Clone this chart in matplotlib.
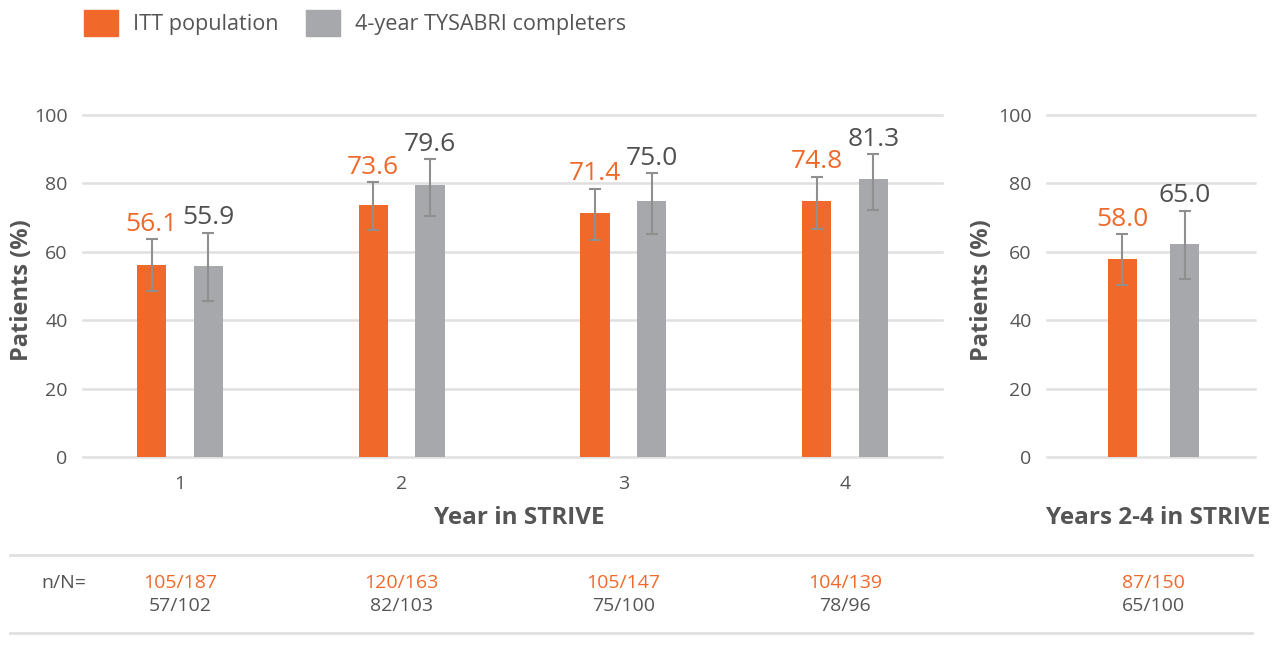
import numpy as np
import matplotlib
matplotlib.use('Agg')
import matplotlib.pyplot as plt
import matplotlib.transforms as mtransforms
from matplotlib.patches import Patch
from matplotlib.lines import Line2D

plt.rcParams['font.family'] = ['Open Sans', 'DejaVu Sans']

# data
years = [1, 2, 3, 4]
itt_vals = [56.1, 73.6, 71.4, 74.8]
itt_lo = [48.5, 66.5, 63.5, 66.6]
itt_hi = [63.7, 80.3, 78.5, 82.0]
comp_vals = [55.9, 79.6, 75.0, 81.3]
comp_lo = [45.7, 70.6, 65.3, 72.1]
comp_hi = [65.6, 87.0, 83.0, 88.5]

# years 2-4 panel (grey bar is drawn lower than its printed label in the source)
itt_24 = 58.0
itt_24_ci = (50.3, 65.2)
comp_24_bar = 62.3
comp_24_label = "65.0"
comp_24_ci = (52.1, 72.0)

itt_nN = ["105/187", "120/163", "105/147", "104/139"]
comp_nN = ["57/102", "82/103", "75/100", "78/96"]
itt_nN_24 = "87/150"
comp_nN_24 = "65/100"

ORANGE = '#F0692A'
GREY = '#A7A8AB'
ERR = '#8F8F8F'
TXT = '#555555'
GRID = '#E0E0E0'

W = 1280; H = 645
fig = plt.figure(figsize=(12.8, 6.45), dpi=100)
ax1 = fig.add_axes([83 / W, (H - 457) / H, (942 - 83) / W, 342 / H])
ax2 = fig.add_axes([1047 / W, (H - 457) / H, (1255 - 1047) / W, 342 / H])

off = 0.128
bw = 0.132
err_kw = dict(ecolor=ERR, elinewidth=1.5, capsize=4.3, capthick=1.5)


def value_label(ax, x, y, text, color):
    ax.annotate(text, (x, y), xytext=(0, 6), textcoords='offset points',
                ha='center', va='baseline', fontsize=19, color=color,
                annotation_clip=False)


x = np.array(years, dtype=float)
itt_err = [np.array(itt_vals) - np.array(itt_lo), np.array(itt_hi) - np.array(itt_vals)]
comp_err = [np.array(comp_vals) - np.array(comp_lo), np.array(comp_hi) - np.array(comp_vals)]
ax1.bar(x - off, itt_vals, bw, color=ORANGE, yerr=itt_err, error_kw=err_kw, zorder=3)
ax1.bar(x + off, comp_vals, bw, color=GREY, yerr=comp_err, error_kw=err_kw, zorder=3)
for i in range(len(years)):
    value_label(ax1, x[i] - off, itt_hi[i], f"{itt_vals[i]:.1f}", ORANGE)
    value_label(ax1, x[i] + off, comp_hi[i], f"{comp_vals[i]:.1f}", '#505050')

ax2.bar([-0.14], [itt_24], bw, color=ORANGE,
        yerr=[[itt_24 - itt_24_ci[0]], [itt_24_ci[1] - itt_24]], error_kw=err_kw, zorder=3)
ax2.bar([0.14], [comp_24_bar], bw, color=GREY,
        yerr=[[comp_24_bar - comp_24_ci[0]], [comp_24_ci[1] - comp_24_bar]], error_kw=err_kw, zorder=3)
value_label(ax2, -0.14, itt_24_ci[1], f"{itt_24:.1f}", ORANGE)
value_label(ax2, 0.14, comp_24_ci[1], comp_24_label, '#505050')

ax1.set_xlim(0.563, 4.437)
ax2.set_xlim(-0.48, 0.457)
for ax in (ax1, ax2):
    ax.set_ylim(0, 100)
    ax.set_yticks(range(0, 101, 20))
    ax.yaxis.grid(True, color=GRID, linewidth=1.8, zorder=0)
    ax.set_axisbelow(True)
    for s in ax.spines.values():
        s.set_visible(False)
    ax.tick_params(axis='both', length=0, labelsize=14, labelcolor=TXT, pad=11)
    ax.set_ylabel("Patients (%)", fontsize=17, fontweight='bold', color=TXT)
    for gl in ax.get_ygridlines():
        gl.set_clip_on(False)

ax1.set_xticks(years)
ax1.set_xticklabels([str(y) for y in years])
ax1.tick_params(axis='x', pad=13)
ax2.set_xticks([])

ax1.yaxis.set_label_coords((34 - 83) / 859, 0.488)
ax2.yaxis.set_label_coords((994 - 1047) / 208, 0.488)
ax1.text(0.5076, (457 - 518) / 342, "Year in STRIVE", transform=ax1.transAxes,
         ha='center', va='center', fontsize=17.5, fontweight='bold', color=TXT)
ax2.text(0.534, (457 - 518) / 342, "Years 2-4 in STRIVE", transform=ax2.transAxes,
         ha='center', va='center', fontsize=17.5, fontweight='bold', color=TXT)

# legend
handles = [Patch(color=ORANGE), Patch(color=GREY)]
fig.legend(handles, ["ITT population", "4-year TYSABRI completers"], ncol=2,
           loc='center left', bbox_to_anchor=(84 / W, 1 - 23 / H), frameon=False,
           fontsize=15.6, handlelength=1.55, handleheight=1.45, handletextpad=0.7,
           columnspacing=1.3, borderpad=0, borderaxespad=0, labelcolor=TXT)

# n/N table
for yy in (555, 633):
    fig.add_artist(Line2D([10 / W, 1252 / W], [1 - yy / H] * 2, color=GRID, linewidth=2))
fig.text(41 / W, 1 - 583 / H, "n/N=", ha='left', va='center', fontsize=14, color=TXT)
tr1 = mtransforms.blended_transform_factory(ax1.transData, fig.transFigure)
tr2 = mtransforms.blended_transform_factory(ax2.transData, fig.transFigure)
for i, yv in enumerate(years):
    fig.text(yv, 1 - 583 / H, itt_nN[i], transform=tr1, ha='center', va='center', fontsize=14, color=ORANGE)
    fig.text(yv, 1 - 606 / H, comp_nN[i], transform=tr1, ha='center', va='center', fontsize=14, color=TXT)
fig.text(0, 1 - 583 / H, itt_nN_24, transform=tr2, ha='center', va='center', fontsize=14, color=ORANGE)
fig.text(0, 1 - 606 / H, comp_nN_24, transform=tr2, ha='center', va='center', fontsize=14, color=TXT)

fig.savefig("out.png", dpi=100)
